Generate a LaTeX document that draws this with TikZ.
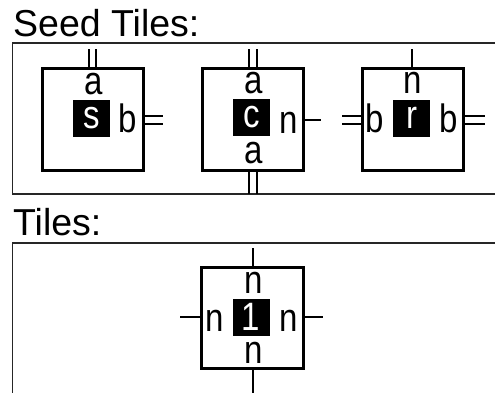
\documentclass[tikz,border=0pt]{standalone}
\usepackage{fontspec}
\setmainfont{Liberation Sans}
\newcommand{\tl}[1]{\scalebox{1}[1.2]{#1}}
\tikzset{
  tile/.style={draw=black, line width=3pt, minimum width=101pt, minimum height=102pt, inner sep=0pt},
  blk/.style={fill=black, text=white, minimum width=37pt, minimum height=37pt, inner sep=0pt, font=\fontsize{33}{33}\selectfont},
  lab/.style={inner sep=0pt, font=\fontsize{33}{33}\selectfont},
  title/.style={inner sep=0pt, anchor=base west, font=\fontsize{37.5}{37.5}\selectfont},
  frame/.style={draw=black!85, line width=1.8pt},
  dbl/.style={line width=2pt},
  sgl/.style={line width=2.6pt}
}
\begin{document}
\begin{tikzpicture}[x=1pt,y=-1pt]
\useasboundingbox (0,0) rectangle (495,392);
% titles and frames
\node[title] (st) at (13,36) {Seed Tiles:};
\node[title] (tt) at (13,235) {Tiles:};
\draw[frame] (496,43) -- (12.5,43) -- (12.5,194) -- (496,194);
\draw[frame] (496,243) -- (12.5,243) -- (12.5,393);
% tile s
\node[tile] (t1) at (92.5,119) {};
\node[blk] (b1) at (91.5,118) {\tl{s}};
\node[lab] (a1) at (94,84) {\tl{a}};
\node[lab] (r1) at (128,118) {\tl{b}};
\draw[dbl] (88.5,49) -- (88.5,68) (96,49) -- (96,68);
\draw[dbl] (143,116) -- (163,116) (143,124) -- (163,124);
% tile c
\node[tile] (t2) at (253,119) {};
\node[blk] (b2) at (251.5,117.5) {\tl{c}};
\node[lab] (a2) at (254,83) {\tl{a}};
\node[lab] (r2) at (289,123) {\tl{n}};
\node[lab] (d2) at (254,153) {\tl{a}};
\draw[dbl] (249,49) -- (249,68) (256.5,49) -- (256.5,68);
\draw[dbl] (249,170) -- (249,194) (256.5,170) -- (256.5,194);
\draw[sgl] (304,120) -- (321,120);
% tile r
\node[tile] (t3) at (413,119) {};
\node[blk] (b3) at (411.5,118) {\tl{r}};
\node[lab] (a3) at (413,83) {\tl{n}};
\node[lab] (l3) at (375,118) {\tl{b}};
\node[lab] (r3) at (448.5,118) {\tl{b}};
\draw[sgl] (412,49) -- (412,68);
\draw[dbl] (342,116) -- (362,116) (342,124) -- (362,124);
\draw[dbl] (464,116) -- (485,116) (464,124) -- (485,124);
% tile 1
\node[tile, minimum width=102pt, minimum height=101pt] (t4) at (252,317.5) {};
\node[blk] (b4) at (251,317) {\tl{1}};
\node[lab] (a4) at (254,283) {\tl{n}};
\node[lab] (l4) at (215,321) {\tl{n}};
\node[lab] (r4) at (288.5,321) {\tl{n}};
\node[lab] (d4) at (254,353) {\tl{n}};
\draw[sgl] (253,248) -- (253,267);
\draw[sgl] (253,368) -- (253,393);
\draw[sgl] (180,317) -- (201,317);
\draw[sgl] (303,317) -- (323,317);
\end{tikzpicture}
\end{document}
